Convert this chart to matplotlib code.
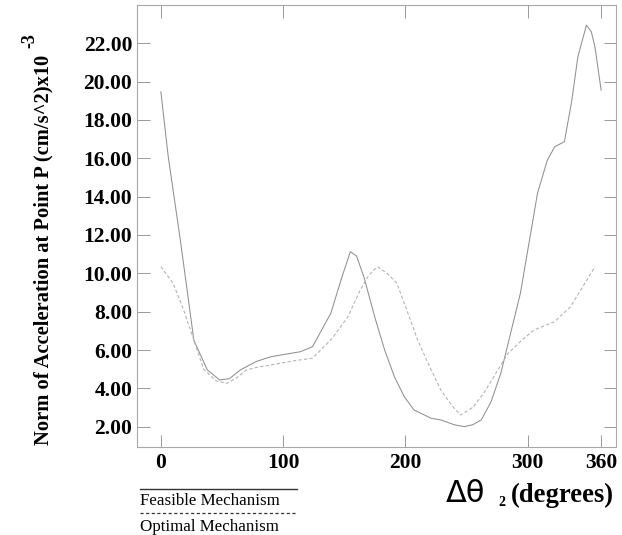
import matplotlib
matplotlib.use('Agg')
import matplotlib.pyplot as plt
from matplotlib.ticker import FormatStrFormatter

# angle (degrees) and acceleration norm (x10^-3)
feas_x = [0, 6, 16, 27, 38, 48, 56, 65, 78, 90, 114, 124, 139, 148, 155, 160, 166, 175, 183, 191,
          199, 207, 221, 229, 240, 248, 255, 262, 270, 278, 294, 308, 316, 322, 330, 336, 341, 348,
          352, 355, 360]
feas_y = [19.47, 16.1, 11.7, 6.5, 4.96, 4.44, 4.5, 4.96, 5.4, 5.65, 5.91, 6.17, 7.92, 9.8, 11.13,
          10.9, 9.82, 7.7, 6.0, 4.6, 3.57, 2.87, 2.44, 2.35, 2.1, 2.0, 2.1, 2.35, 3.3, 4.79, 8.96,
          14.18, 15.9, 16.6, 16.87, 19.0, 21.3, 22.95, 22.6, 21.8, 19.56]

opt_x = [0, 10, 18, 25, 35, 45, 54, 62, 70, 80, 90, 110, 124, 140, 153, 163, 170, 177, 185, 193,
         201, 210, 220, 229, 238, 245, 255, 264, 275, 284, 295, 305, 322, 335, 345, 355]
opt_y = [10.35, 9.48, 8.2, 6.89, 5.0, 4.4, 4.26, 4.55, 4.96, 5.12, 5.22, 5.45, 5.57, 6.6, 7.74,
         9.13, 9.9, 10.35, 10.0, 9.48, 8.1, 6.52, 5.1, 3.91, 3.1, 2.61, 3.0, 3.74, 4.9, 5.83, 6.5,
         7.04, 7.48, 8.26, 9.3, 10.35]

xticks = [0, 100, 200, 300, 360]
yticks = [2, 4, 6, 8, 10, 12, 14, 16, 18, 20, 22]

serif = 'Liberation Serif'

fig = plt.figure(figsize=(6.22, 5.35), dpi=100)
ax = fig.add_axes([0.2203, 0.1645, 0.7697, 0.8262])

ax.plot(feas_x, feas_y, color='#909090', lw=0.75)
ax.plot(opt_x, opt_y, color='#b4b4b4', lw=0.8, linestyle=(0, (3, 2)))

ax.set_xlim(-19.5, 372)
ax.set_ylim(0.94, 24.0)
ax.set_xticks(xticks)
ax.set_yticks(yticks)
ax.yaxis.set_major_formatter(FormatStrFormatter('%.2f'))
ax.tick_params(direction='in', length=9, width=0.7, color='#999999',
               top=True, right=True, labelsize=15.5)
ax.tick_params(axis='y', pad=3.5)
ax.tick_params(axis='x', pad=4)
for lab in ax.get_xticklabels() + ax.get_yticklabels():
    lab.set_fontfamily(serif)
    lab.set_fontweight('bold')
for s in ax.spines.values():
    s.set_color('#a8a8a8')
    s.set_linewidth(0.8)

# y label with exponent
fig.text(43 / 622, 1 - 250 / 535, 'Norm of Acceleration at Point P (cm/s^2)x10', rotation=90,
         ha='center', va='center', family=serif, fontweight='bold', fontsize=14.8)
fig.text(30 / 622, 1 - 41 / 535, '-3', rotation=90, ha='center', va='center',
         family=serif, fontweight='bold', fontsize=13)

# x label
fig.text(446 / 622, 1 - 493 / 535, '\u0394\u03b8', ha='left', va='center', fontsize=22,
         family='DejaVu Sans')
fig.text(498 / 622, 1 - 502 / 535, '2', ha='left', va='center', fontsize=10,
         family=serif, fontweight='bold')
fig.text(511 / 622, 1 - 495 / 535, '(degrees)', ha='left', va='center', fontsize=19.2,
         family=serif, fontweight='bold')

# legend drawn under the axes
fig.add_artist(plt.Line2D([140 / 622, 297 / 622], [1 - 489 / 535, 1 - 489 / 535],
                          color='#333333', lw=1.0))
fig.text(140 / 622, 1 - 501 / 535, 'Feasible Mechanism', ha='left', va='center',
         family=serif, fontsize=12.2)
fig.add_artist(plt.Line2D([140 / 622, 297 / 622], [1 - 513 / 535, 1 - 513 / 535],
                          color='#333333', lw=0.9, linestyle=(0, (2.5, 2))))
fig.text(140 / 622, 1 - 527 / 535, 'Optimal Mechanism', ha='left', va='center',
         family=serif, fontsize=12.2)

fig.savefig('out.png', dpi=100)
